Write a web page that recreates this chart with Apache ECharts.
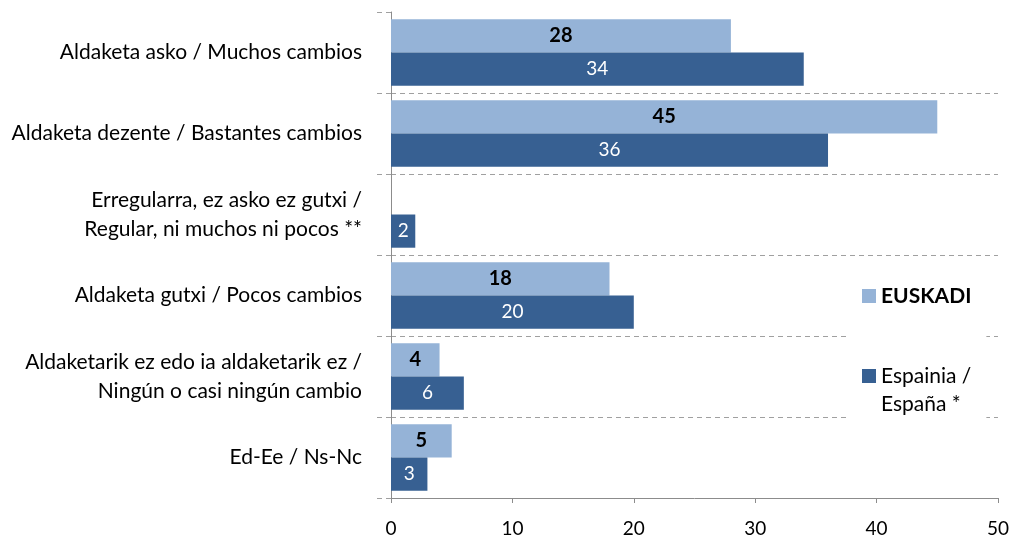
<!DOCTYPE html>
<html>
<head>
<meta charset="utf-8">
<script src="https://cdn.jsdelivr.net/npm/echarts@6/dist/echarts.min.js"></script>
<style>
  html, body { margin: 0; padding: 0; background: #fff; }
  #chart { width: 1012px; height: 539px; }
</style>
</head>
<body>
<div id="chart"></div>
<script>
// categories top to bottom
const categories = [
  'Aldaketa asko / Muchos cambios',
  'Aldaketa dezente / Bastantes cambios',
  'Erregularra, ez asko ez gutxi /\nRegular, ni muchos ni pocos **',
  'Aldaketa gutxi / Pocos cambios',
  'Aldaketarik ez edo ia aldaketarik ez /\nNingún o casi ningún cambio',
  'Ed-Ee / Ns-Nc'
];
const euskadi = [28, 45, null, 18, 4, 5];
const espana = [34, 36, 2, 20, 6, 3];
const xTicks = [0, 10, 20, 30, 40, 50];

const FONT = 'Lato';
const axisGray = '#8c8c8c';
const dashGray = '#a0a0a0';

const chart = echarts.init(document.getElementById('chart'));

const option = {
  animation: false,
  textStyle: { fontFamily: FONT },
  grid: { left: 391, right: 14, top: 12, bottom: 41 },
  legend: {
    orient: 'vertical',
    left: 848,
    top: 270,
    padding: [12, 15, 6, 14],
    backgroundColor: '#fff',
    itemWidth: 14,
    itemHeight: 14,
    itemGap: 24,
    icon: 'rect',
    textStyle: { fontSize: 21, color: '#000', fontFamily: FONT, lineHeight: 28 },
    data: [
      { name: 'EUSKADI', textStyle: { fontWeight: 'bold' } },
      { name: 'Espainia / España *' }
    ],
    // leading empty line keeps the icon level with the first text line
    formatter: n => n === 'Espainia / España *' ? '\nEspainia /\nEspaña *' : n
  },
  xAxis: {
    type: 'value',
    min: 0,
    max: 50,
    interval: 10,
    axisLine: { show: true, lineStyle: { color: axisGray } },
    axisTick: { show: true, length: 5, lineStyle: { color: axisGray } },
    splitLine: { show: false },
    axisLabel: {
      fontSize: 19, color: '#000', margin: 21,
      formatter: v => xTicks.includes(v) ? String(v) : ''
    }
  },
  yAxis: {
    type: 'category',
    inverse: true,
    data: categories,
    axisLine: { show: true, lineStyle: { color: axisGray } },
    axisTick: { show: true, length: 16, lineStyle: { color: dashGray, type: [5, 4] } },
    splitLine: { show: true, showMinLine: false, showMaxLine: false, lineStyle: { color: dashGray, type: [5, 4] } },
    axisLabel: { fontSize: 21, color: '#000', margin: 29, lineHeight: 29, align: 'right' }
  },
  series: [
    {
      name: 'EUSKADI',
      type: 'bar',
      data: euskadi,
      barGap: '0%',
      barCategoryGap: '18%',
      itemStyle: { color: '#95b3d7' },
      label: { show: true, position: 'inside', color: '#000', fontWeight: 'bold', fontSize: 20, fontFamily: FONT }
    },
    {
      name: 'Espainia / España *',
      type: 'bar',
      data: espana,
      barGap: '0%',
      barCategoryGap: '18%',
      itemStyle: { color: '#376092' },
      label: { show: true, position: 'inside', color: '#fff', fontSize: 19, fontFamily: FONT }
    }
  ]
};

chart.setOption(option);
</script>
</body>
</html>
